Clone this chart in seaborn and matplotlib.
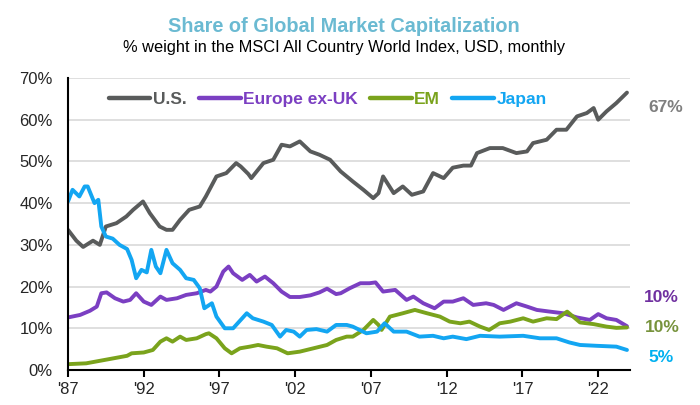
import matplotlib
matplotlib.use("Agg")
import matplotlib.pyplot as plt
import pandas as pd
import numpy as np
import seaborn as sns

# values (% weight in MSCI ACWI)
us_years = [1987.0, 1987.55, 1988.0, 1988.65, 1989.1, 1989.5, 1990.2, 1990.85, 1991.3, 1991.95,
            1992.4, 1993.05, 1993.5, 1993.9, 1994.4, 1995.0, 1995.7, 1996.1, 1996.8, 1997.45,
            1998.1, 1998.4, 1998.9, 1999.1, 1999.9, 2000.55, 2001.1, 2001.65, 2002.3, 2003.0,
            2003.6, 2004.3, 2005.0, 2005.8, 2006.5, 2007.15, 2007.5, 2007.8, 2008.5, 2009.1,
            2009.7, 2010.45, 2011.1, 2011.8, 2012.4, 2013.1, 2013.6, 2014.0, 2014.85, 2015.7,
            2016.6, 2017.3, 2017.7, 2018.6, 2019.25, 2019.9, 2020.6, 2021.25, 2021.7, 2022.0,
            2022.55, 2023.2, 2023.9]
us_share = [33.6, 31.0, 29.5, 31.0, 30.0, 34.4, 35.2, 36.8, 38.4, 40.4,
            37.6, 34.4, 33.6, 33.6, 36.0, 38.4, 39.2, 41.6, 46.4, 47.2,
            49.6, 48.8, 47.0, 46.0, 49.6, 50.4, 54.0, 53.6, 54.8, 52.4,
            51.6, 50.4, 47.6, 45.2, 43.2, 41.2, 42.4, 46.4, 42.4, 44.0,
            42.0, 42.8, 47.2, 46.0, 48.5, 49.0, 49.0, 52.0, 53.2, 53.2,
            52.0, 52.4, 54.4, 55.2, 57.6, 57.6, 60.8, 61.6, 62.8, 60.0,
            62.0, 64.0, 66.5]

eu_years = [1987.0, 1987.8, 1988.45, 1988.9, 1989.2, 1989.55, 1990.1, 1990.65, 1991.1, 1991.5,
            1992.0, 1992.5, 1993.1, 1993.5, 1994.2, 1994.8, 1995.5, 1996.1, 1996.4, 1996.8,
            1997.25, 1997.6, 1997.9, 1998.5, 1999.0, 1999.45, 2000.0, 2000.55, 2001.1, 2001.65,
            2002.3, 2003.0, 2003.6, 2004.1, 2004.7, 2005.0, 2005.6, 2006.3, 2006.9, 2007.3,
            2007.8, 2008.6, 2009.35, 2009.8, 2010.45, 2011.2, 2011.8, 2012.4, 2013.1, 2013.75,
            2014.6, 2015.1, 2015.75, 2016.6, 2017.3, 2017.95, 2018.8, 2019.7, 2020.6, 2021.45,
            2022.0, 2022.55, 2023.2, 2023.9]
eu_share = [12.6, 13.2, 14.2, 15.2, 18.4, 18.6, 17.2, 16.4, 16.8, 18.4,
            16.4, 15.6, 17.6, 16.8, 17.2, 18.0, 18.4, 19.2, 18.8, 20.0,
            23.6, 24.8, 23.2, 21.6, 22.8, 21.2, 22.4, 20.8, 18.8, 17.5,
            17.5, 17.9, 18.6, 19.5, 18.2, 18.4, 19.6, 20.8, 20.8, 21.0,
            18.8, 19.2, 16.8, 17.6, 16.0, 14.8, 16.4, 16.4, 17.2, 15.6,
            16.0, 15.6, 14.4, 16.0, 15.2, 14.4, 14.0, 13.6, 12.6, 12.0,
            13.4, 12.4, 12.0, 10.5]

em_years = [1987.0, 1988.2, 1989.1, 1990.0, 1990.9, 1991.2, 1992.0, 1992.6, 1993.1, 1993.5,
            1993.9, 1994.4, 1994.8, 1995.5, 1996.1, 1996.3, 1996.8, 1997.35, 1997.8, 1998.35,
            1999.0, 1999.55, 2000.1, 2000.8, 2001.5, 2002.3, 2003.2, 2004.1, 2004.7, 2005.4,
            2005.8, 2006.5, 2007.15, 2007.5, 2007.7, 2008.25, 2009.1, 2009.9, 2010.7, 2011.55,
            2012.2, 2012.9, 2013.5, 2014.2, 2014.8, 2015.5, 2016.2, 2017.05, 2017.7, 2018.6,
            2019.25, 2019.95, 2020.8, 2021.7, 2022.55, 2023.2, 2023.9]
em_share = [1.4, 1.6, 2.2, 2.8, 3.4, 4.0, 4.2, 4.8, 6.8, 7.6,
            6.8, 8.0, 7.2, 7.6, 8.6, 8.8, 7.6, 5.2, 4.0, 5.2,
            5.6, 6.0, 5.6, 5.2, 4.0, 4.4, 5.2, 6.0, 7.2, 8.0,
            8.0, 9.6, 12.0, 10.8, 9.6, 12.8, 13.6, 14.4, 13.6, 12.8,
            11.6, 11.2, 11.6, 10.4, 9.6, 11.2, 11.6, 12.4, 11.6, 12.4,
            12.2, 14.0, 11.4, 11.0, 10.4, 10.1, 10.2]

jp_years = [1987.0, 1987.3, 1987.75, 1988.1, 1988.3, 1988.75, 1989.0, 1989.2, 1989.5, 1989.95,
            1990.4, 1990.9, 1991.2, 1991.5, 1991.85, 1992.2, 1992.5, 1992.8, 1993.1, 1993.5,
            1993.9, 1994.4, 1994.8, 1995.3, 1995.7, 1996.0, 1996.5, 1996.8, 1997.35, 1997.9,
            1998.5, 1998.8, 1999.2, 1999.9, 2000.45, 2001.0, 2001.4, 2001.9, 2002.3, 2002.75,
            2003.4, 2004.1, 2004.7, 2005.4, 2005.8, 2006.7, 2007.4, 2007.9, 2008.5, 2009.35,
            2010.2, 2011.1, 2011.8, 2012.4, 2013.3, 2014.2, 2015.5, 2017.05, 2018.15, 2019.25,
            2020.1, 2020.8, 2021.9, 2023.2, 2023.9]
jp_share = [40.4, 43.2, 41.6, 44.0, 44.0, 40.0, 40.8, 34.4, 32.0, 31.5,
            30.0, 29.0, 26.4, 22.0, 24.0, 23.4, 28.8, 24.8, 23.2, 28.8,
            25.6, 24.0, 22.0, 21.6, 19.6, 14.8, 16.0, 12.8, 10.0, 10.0,
            12.4, 13.6, 12.4, 11.6, 10.8, 8.0, 9.6, 9.2, 8.0, 9.6,
            9.8, 9.2, 10.8, 10.8, 10.4, 8.8, 9.2, 11.2, 9.2, 9.2,
            8.0, 8.2, 7.6, 8.0, 7.4, 8.2, 8.0, 8.2, 7.6, 7.6,
            6.6, 6.0, 5.8, 5.6, 4.8]

regions = ["U.S.", "Europe ex-UK", "EM", "Japan"]
line_colors = ["#595b5b", "#7b3fc2", "#7aa31c", "#13a6f2"]
end_labels = ["67%", "10%", "10%", "5%"]
end_colors = ["#7f7f7f", "#7030a0", "#77933c", "#00b0f0"]
tick_years = [1987, 1992, 1997, 2002, 2007, 2012, 2017, 2022]
tick_labels = ["'87", "'92", "'97", "'02", "'07", "'12", "'17", "'22"]

df = pd.concat([
    pd.DataFrame({"year": us_years, "share": us_share, "region": "U.S."}),
    pd.DataFrame({"year": eu_years, "share": eu_share, "region": "Europe ex-UK"}),
    pd.DataFrame({"year": em_years, "share": em_share, "region": "EM"}),
    pd.DataFrame({"year": jp_years, "share": jp_share, "region": "Japan"}),
], ignore_index=True)

sns.set_style("white")
plt.rcParams["font.family"] = ["Liberation Sans", "DejaVu Sans"]

fig = plt.figure(figsize=(7, 4.05), dpi=100)
ax = fig.add_axes([68 / 700, 1 - 370 / 405, 562 / 700, 292 / 405])

sns.lineplot(data=df, x="year", y="share", hue="region", hue_order=regions,
             palette=dict(zip(regions, line_colors)), linewidth=2.8,
             estimator=None, sort=False, legend=False, ax=ax)

ax.set_xlim(1987, 2024.1)
ax.set_ylim(0, 70)
ax.set_yticks(range(0, 71, 10))
ax.set_yticklabels([f"{v}%" for v in range(0, 71, 10)], fontsize=12)
ax.set_xticks(tick_years)
ax.set_xticklabels(tick_labels, fontsize=12)
ax.set_xlabel("")
ax.set_ylabel("")
ax.yaxis.grid(True, color="#d9d9d9", linewidth=1.2)
ax.set_axisbelow(True)
for s in ["top", "right"]:
    ax.spines[s].set_visible(False)
for s in ["left", "bottom"]:
    ax.spines[s].set_color("black")
    ax.spines[s].set_linewidth(1.5)
ax.tick_params(axis="y", length=0, pad=11)
ax.tick_params(axis="x", direction="out", length=5, width=1.5, color="black", pad=4, bottom=True)

handles = [plt.Line2D([], [], color=c, linewidth=3.2) for c in line_colors]
leg = ax.legend(handles, regions, loc="upper left", bbox_to_anchor=(0.06, 0.975), ncol=4,
                frameon=False, handlelength=2.4, handletextpad=0.15, columnspacing=0.7,
                prop={"weight": "bold", "size": 12.5}, borderaxespad=0)
for txt, c in zip(leg.get_texts(), line_colors):
    txt.set_color(c)

label_pos = [(648, 107), (644, 297), (645, 328), (648, 358)]
for lab, c, (px, py) in zip(end_labels, end_colors, label_pos):
    fig.text(px / 700, 1 - py / 405, lab, color=c, fontsize=12.5, fontweight="bold",
             ha="left", va="center")

fig.text(344 / 700, 1 - 32 / 405, "Share of Global Market Capitalization", color="#6bbad2",
         fontsize=14.3, fontweight="bold", ha="center", va="baseline")
fig.text(344 / 700, 1 - 52 / 405, "% weight in the MSCI All Country World Index, USD, monthly",
         color="black", fontsize=11.8, ha="center", va="baseline")

fig.savefig("out.png", dpi=100)
